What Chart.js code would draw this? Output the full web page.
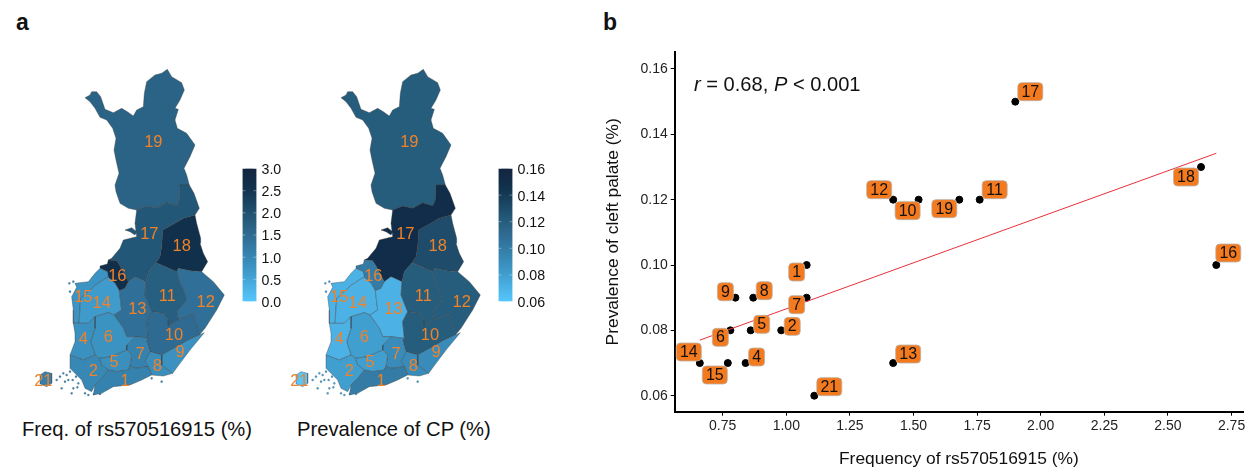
<!DOCTYPE html>
<html>
<head>
<meta charset="utf-8">
<script src="https://cdn.jsdelivr.net/npm/chart.js@4/dist/chart.umd.min.js"></script>
<style>
  html, body { margin: 0; background: #fff; overflow: hidden; }
  body { width: 1250px; height: 467px; position: relative; font-family: "Liberation Sans", sans-serif; color: #111; }
  .box { position: absolute; }
  .txt { position: absolute; white-space: nowrap; line-height: 1; }
</style>
</head>
<body>
<div class="box" style="left:20px;top:60px;width:220px;height:340px"><canvas id="mapFreq"></canvas></div>
<div class="box" style="left:276px;top:60px;width:220px;height:340px"><canvas id="mapPrev"></canvas></div>
<div class="box" style="left:236px;top:155px;width:60px;height:160px"><canvas id="barFreq"></canvas></div>
<div class="box" style="left:492px;top:155px;width:66px;height:160px"><canvas id="barPrev"></canvas></div>
<div class="box" style="left:600px;top:40px;width:650px;height:430px"><canvas id="scatter"></canvas></div>

<div class="txt" style="left:16px;top:11px;font-size:23px;font-weight:bold">a</div>
<div class="txt" style="left:603px;top:11px;font-size:23px;font-weight:bold">b</div>
<div class="txt" style="left:22px;top:419px;font-size:20.2px">Freq. of rs570516915 (%)</div>
<div class="txt" style="left:297px;top:419px;font-size:20.2px">Prevalence of CP (%)</div>
<div class="txt" style="left:694px;top:74px;font-size:20.1px"><i>r</i> = 0.68, <i>P</i> &lt; 0.001</div>

<script>
// region numbers, same order in all the arrays below
const regionIds = [1, 2, 4, 5, 6, 7, 8, 9, 10, 11, 12, 13, 14, 15, 16, 17, 18, 19, 21];
const freqValues = [1.08, 0.98, 0.84, 0.86, 0.78, 1.08, 0.87, 0.80, 1.52, 1.76, 1.42, 1.42, 0.66, 0.77, 2.69, 1.90, 2.63, 1.68, 1.11];
const prevValues = [0.10, 0.08, 0.07, 0.08, 0.08, 0.09, 0.09, 0.09, 0.12, 0.12, 0.12, 0.07, 0.07, 0.07, 0.10, 0.15, 0.13, 0.12, 0.06];

const fitX = [0.66, 2.69];
const fitY = [0.0770, 0.1342];

const xTicks = [0.75, 1.00, 1.25, 1.50, 1.75, 2.00, 2.25, 2.50, 2.75];
const yTicks = [0.06, 0.08, 0.10, 0.12, 0.14, 0.16];
const freqBarTicks = [0, 0.5, 1, 1.5, 2, 2.5, 3];
const prevBarTicks = [0.06, 0.08, 0.10, 0.12, 0.14, 0.16];

// label box offset from the point, px
const labelOffsets = [[-10,7],[11,-4],[11,-6],[11,-6],[-10,7],[-10,7],[11,-7],[-10,-6],[-11,11],[15,-10],[-14,-10],[15,-9],[-11,-11],[-13,12],[12,-12],[15,-10],[-15,10],[-15,9],[15,-9]];

// map outlines, map units
const outlines = {
  1: [[265,390],[290,395],[325,390],[330,378],[345,385],[385,380],[395,405],[365,420],[330,435],[280,440],[245,460],[220,465],[225,435],[245,415]],
  2: [[150,345],[190,360],[225,345],[238,355],[245,375],[265,390],[245,415],[225,435],[215,455],[195,445],[185,420],[150,385]],
  4: [[160,250],[177,250],[205,250],[225,230],[225,265],[212,305],[225,345],[190,360],[150,345],[165,305],[165,280]],
  5: [[238,355],[275,350],[320,330],[335,345],[330,378],[325,390],[290,395],[265,390],[245,375]],
  6: [[225,230],[265,218],[282,225],[310,265],[320,290],[345,290],[320,315],[320,330],[275,350],[238,355],[225,345],[212,305],[225,265]],
  7: [[385,295],[345,290],[320,315],[320,330],[335,345],[330,378],[345,385],[385,380],[375,365],[390,335],[380,300]],
  8: [[390,335],[425,345],[425,375],[458,400],[430,408],[395,405],[385,380],[375,365]],
  9: [[538,285],[505,300],[470,320],[425,345],[425,375],[458,400],[480,370],[510,330],[553,278]],
  10: [[395,215],[430,220],[445,240],[445,258],[475,240],[520,222],[538,285],[505,300],[470,320],[425,345],[390,335],[380,300],[385,295],[380,245]],
  11: [[378,125],[385,95],[408,68],[440,82],[470,95],[478,125],[490,150],[500,180],[470,215],[475,240],[445,258],[445,240],[430,220],[395,215],[375,165]],
  12: [[470,95],[475,85],[510,92],[545,95],[580,125],[613,165],[590,210],[555,265],[538,285],[520,222],[475,240],[470,215],[500,180],[490,150],[478,125]],
  13: [[345,110],[378,125],[375,165],[395,215],[380,245],[385,295],[345,290],[320,290],[310,265],[282,225],[305,210],[298,152],[315,145],[325,125]],
  14: [[252,118],[265,112],[285,130],[298,152],[305,210],[282,225],[265,218],[225,230],[205,250],[177,250],[182,175],[227,135]],
  15: [[240,85],[225,100],[205,125],[165,130],[170,142],[155,170],[160,210],[160,250],[177,250],[182,175],[227,135],[252,118],[265,112],[262,95]],
  16: [[240,78],[262,72],[265,60],[290,62],[300,78],[325,125],[315,145],[298,152],[285,130],[265,112],[262,95],[240,85]],
  17: [[508,-165],[480,-165],[478,-120],[470,-103],[440,-112],[410,-95],[380,-102],[350,-90],[345,-50],[350,-10],[310,0],[300,25],[275,55],[265,60],[290,62],[300,78],[325,125],[345,110],[378,125],[385,95],[408,68],[420,50],[425,20],[428,-30],[455,-45],[490,-65],[525,-75],[538,-95],[522,-140]],
  18: [[525,-75],[490,-65],[455,-45],[428,-30],[425,20],[420,50],[408,68],[440,82],[470,95],[475,85],[510,92],[545,95],[563,65],[550,40],[540,10],[542,-5],[530,-50]],
  19: [[195,-427],[210,-435],[215,-445],[230,-445],[242,-430],[255,-392],[280,-382],[305,-395],[322,-385],[340,-372],[350,-390],[370,-400],[373,-440],[380,-475],[405,-495],[425,-500],[442,-512],[455,-490],[485,-472],[493,-450],[480,-420],[465,-395],[475,-392],[465,-360],[472,-335],[500,-320],[525,-285],[510,-250],[492,-215],[500,-195],[508,-165],[480,-165],[478,-120],[470,-103],[440,-112],[410,-95],[380,-102],[350,-90],[325,-95],[300,-110],[288,-145],[285,-165],[297,-200],[288,-240],[282,-270],[288,-305],[278,-335],[260,-360],[240,-368],[225,-395],[210,-415]],
  21: [[60,405],[75,395],[95,400],[95,430],[80,440],[62,432]]
};
const island17 = [[315,-30],[335,-37],[350,-25],[345,-15],[330,-25]];
const islets = [[120,410],[130,400],[145,420],[160,445],[175,430],[150,395],[125,445],[155,460],[110,420],[135,425],[168,410],[158,420],[172,442],[140,405],[150,155],[160,125],[148,130],[395,415],[425,425],[240,462],[195,460],[205,465],[222,462]];

// number label anchors on the map
const mapLabelX = [315,220,190,282,265,360,412,480,462,442,557,352,245,190,292,388,485,400,70];
const mapLabelY = [425,395,298,368,292,342,378,338,285,170,188,208,190,172,110,-17,20,-293,423];

const colorStops = [[0,[86,198,253]],[0.26,[59,147,194]],[0.5,[47,107,146]],[0.6,[38,93,125]],[0.85,[17,50,77]],[1,[19,36,64]]];

function rampColor(t) {
  for (let i = 1; i < colorStops.length; i++) {
    if (t <= colorStops[i][0]) {
      const a = colorStops[i-1], b = colorStops[i];
      const f = (t - a[0]) / (b[0] - a[0]);
      const c = a[1].map((v, k) => Math.round(v + (b[1][k] - v) * f));
      return `rgb(${c[0]},${c[1]},${c[2]})`;
    }
  }
  return 'rgb(19,36,64)';
}

const pts = arr => arr.concat([arr[0]]).map(p => ({x: p[0], y: p[1]}));
const edgeColor = 'rgba(60,60,60,0.55)';

const mapLabels = {
  id: 'mapLabels',
  afterDatasetsDraw(chart) {
    const {ctx, scales} = chart;
    ctx.save();
    ctx.font = '16.5px "Liberation Sans"';
    ctx.fillStyle = '#f0822a';
    ctx.textAlign = 'center';
    ctx.textBaseline = 'middle';
    regionIds.forEach((id, i) => {
      ctx.fillText(String(id), scales.x.getPixelForValue(mapLabelX[i]), scales.y.getPixelForValue(mapLabelY[i]));
    });
    ctx.restore();
  }
};

function makeMap(canvasId, values, lo, hi) {
  const colorOf = v => rampColor((v - lo) / (hi - lo));
  const sets = regionIds.map((id, i) => ({
    data: pts(outlines[id]),
    showLine: true,
    fill: 'shape',
    backgroundColor: colorOf(values[i]),
    borderColor: edgeColor,
    borderWidth: 0.7,
    pointRadius: 0,
    tension: 0
  }));
  sets.push({
    data: pts(island17), showLine: true, fill: 'shape', pointRadius: 0,
    backgroundColor: colorOf(values[regionIds.indexOf(17)]), borderColor: edgeColor, borderWidth: 0.7
  });
  sets.push({
    data: islets.map(p => ({x: p[0], y: p[1]})), showLine: false, pointRadius: 1.1,
    backgroundColor: colorOf(values[regionIds.indexOf(2)]), borderColor: edgeColor, borderWidth: 0.3
  });
  new Chart(document.getElementById(canvasId), {
    type: 'scatter',
    data: {datasets: sets},
    options: {
      responsive: true, maintainAspectRatio: false, animation: false,
      layout: {padding: 0, autoPadding: false},
      plugins: {legend: {display: false}, tooltip: {enabled: false}},
      scales: {
        x: {type: 'linear', display: false, min: 0, max: 660},
        y: {type: 'linear', display: false, min: -540, max: 480, reverse: true}
      }
    },
    plugins: [mapLabels]
  });
}

makeMap('mapFreq', freqValues, 0, 3);
makeMap('mapPrev', prevValues, 0.06, 0.16);

const barTickMarks = {
  id: 'barTickMarks',
  afterDatasetsDraw(chart) {
    const {ctx, chartArea: a, scales: {y}} = chart;
    ctx.save();
    ctx.strokeStyle = 'rgba(255,255,255,0.6)';
    ctx.lineWidth = 0.6;
    y.ticks.forEach(t => {
      const py = y.getPixelForValue(t.value);
      ctx.beginPath();
      ctx.moveTo(a.left, py); ctx.lineTo(a.left + 3, py);
      ctx.moveTo(a.right - 3, py); ctx.lineTo(a.right, py);
      ctx.stroke();
    });
    ctx.restore();
  }
};

function makeBar(canvasId, lo, hi, ticks, decimals) {
  new Chart(document.getElementById(canvasId), {
    type: 'bar',
    data: {
      labels: [''],
      datasets: [{
        data: [[lo, hi]],
        barPercentage: 1,
        categoryPercentage: 1,
        backgroundColor(ctx) {
          const a = ctx.chart.chartArea;
          if (!a) return '#2f6b92';
          const g = ctx.chart.ctx.createLinearGradient(0, a.bottom, 0, a.top);
          colorStops.forEach(s => g.addColorStop(s[0], `rgb(${s[1].join(',')})`));
          return g;
        }
      }]
    },
    options: {
      responsive: true, maintainAspectRatio: false, animation: false,
      layout: {padding: {left: 6.5, top: 9.5, bottom: 12.5, right: 0}, autoPadding: false},
      plugins: {legend: {display: false}, tooltip: {enabled: false}},
      scales: {
        x: {display: false},
        y: {
          position: 'right', min: lo, max: hi,
          afterBuildTicks(s) { s.ticks = ticks.map(v => ({value: v})); },
          afterFit(s) { s.width = (canvasId === 'barFreq' ? 60 : 66) - 20.5; },
          border: {display: false},
          grid: {display: false, drawTicks: false},
          ticks: {
            color: '#111', padding: 5, labelOffset: 1.5, font: {family: '"Liberation Sans"', size: 14.2},
            callback: v => Number(v).toFixed(decimals)
          }
        }
      }
    },
    plugins: [barTickMarks]
  });
}

makeBar('barFreq', 0, 3, freqBarTicks, 1);
makeBar('barPrev', 0.06, 0.16, prevBarTicks, 2);

const pointLabels = {
  id: 'pointLabels',
  afterDatasetsDraw(chart) {
    const {ctx, scales} = chart;
    ctx.save();
    ctx.font = '16px "Liberation Sans"';
    ctx.textAlign = 'center';
    ctx.textBaseline = 'middle';
    regionIds.forEach((id, i) => {
      const s = String(id);
      const w = s.length > 1 ? 25 : 16;
      const h = 18;
      const cx = scales.x.getPixelForValue(freqValues[i]) + labelOffsets[i][0];
      const cy = scales.y.getPixelForValue(prevValues[i]) + labelOffsets[i][1];
      ctx.beginPath();
      ctx.roundRect(cx - w / 2, cy - h / 2, w, h, 4);
      ctx.fillStyle = '#f47a1f';
      ctx.fill();
      ctx.strokeStyle = '#b9b2aa';
      ctx.lineWidth = 0.8;
      ctx.stroke();
      ctx.fillStyle = '#111';
      ctx.fillText(s, cx, cy + 0.5);
    });
    ctx.restore();
  }
};

const axisFont = {family: '"Liberation Sans"', size: 14};
const titleFont = {family: '"Liberation Sans"', size: 17.4};

new Chart(document.getElementById('scatter'), {
  type: 'scatter',
  data: {
    datasets: [
      {
        data: fitX.map((x, i) => ({x, y: fitY[i]})),
        showLine: true, borderColor: '#e8303a', borderWidth: 1, pointRadius: 0
      },
      {
        data: freqValues.map((x, i) => ({x, y: prevValues[i]})),
        backgroundColor: '#000', borderColor: '#000', pointRadius: 3.5
      }
    ]
  },
  options: {
    responsive: true, maintainAspectRatio: false, animation: false,
    layout: {padding: {left: 0, right: 7, top: 12, bottom: 0}, autoPadding: false},
    plugins: {legend: {display: false}, tooltip: {enabled: false}},
    scales: {
      x: {
        type: 'linear', min: 0.5613, max: 2.795,
        afterBuildTicks(s) { s.ticks = xTicks.map(v => ({value: v})); },
        afterFit(s) { s.height = 58.3; },
        border: {color: '#000', width: 2},
        grid: {drawOnChartArea: false, color: '#000', tickLength: 4, tickWidth: 1},
        ticks: {color: '#222', font: axisFont, padding: 2, maxRotation: 0, callback: v => Number(v).toFixed(2)},
        title: {display: true, text: 'Frequency of rs570516915 (%)', color: '#111', font: titleFont, padding: {top: 12, bottom: 0}}
      },
      y: {
        type: 'linear', min: 0.0551, max: 0.1652,
        afterBuildTicks(s) { s.ticks = yTicks.map(v => ({value: v})); },
        afterFit(s) { s.width = 74.7; },
        border: {color: '#000', width: 2},
        grid: {drawOnChartArea: false, color: '#000', tickLength: 4, tickWidth: 1},
        ticks: {color: '#222', font: axisFont, padding: 3, callback: v => Number(v).toFixed(2)},
        title: {display: true, text: 'Prevalence of cleft palate (%)', color: '#111', font: titleFont, padding: {top: 3, bottom: 0}}
      }
    }
  },
  plugins: [pointLabels]
});
</script>
</body>
</html>
